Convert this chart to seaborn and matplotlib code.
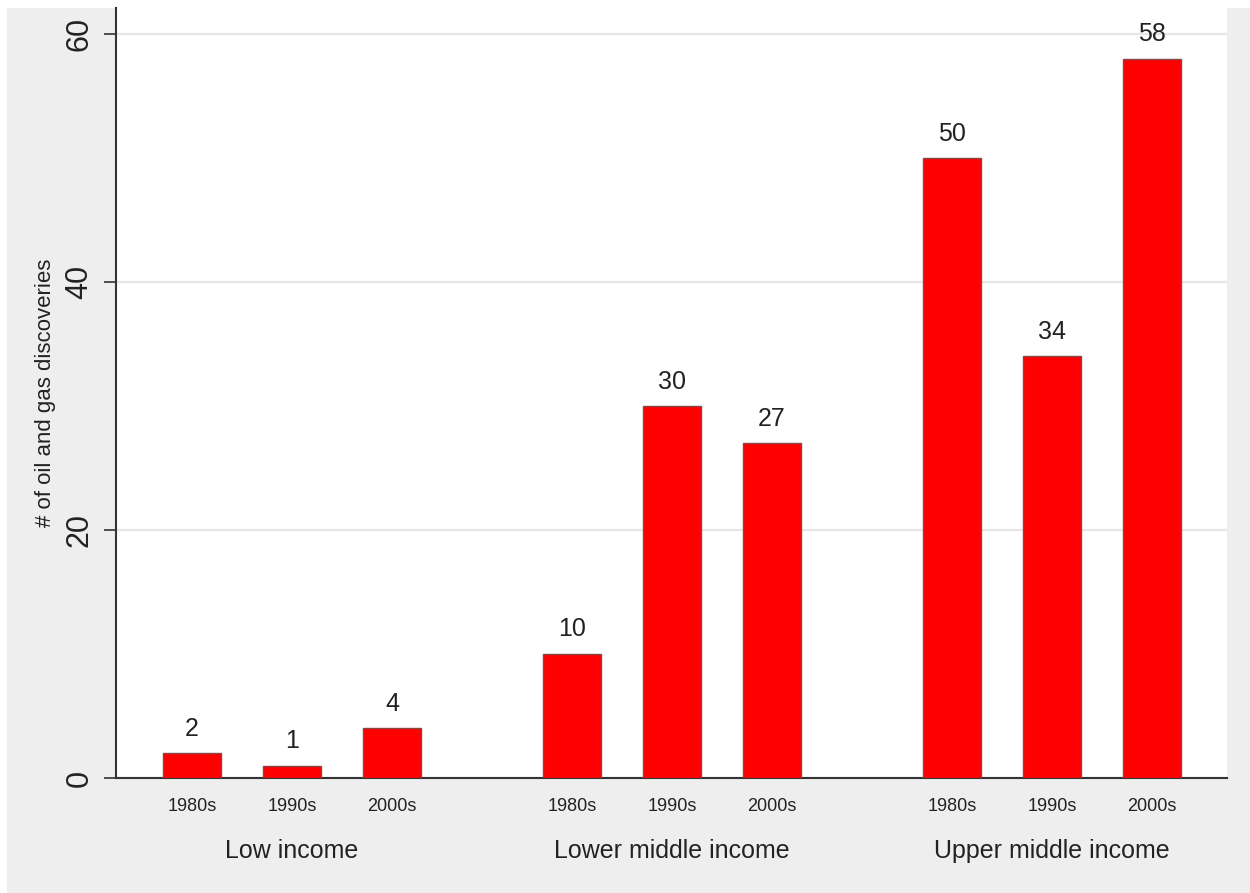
import numpy as np
import pandas as pd
import seaborn as sns
import matplotlib.pyplot as plt
import matplotlib.transforms as mtransforms
from matplotlib.patches import Rectangle

# data
groups = ['Low income', 'Lower middle income', 'Upper middle income']
decades = ['1980s', '1990s', '2000s']
low_income = [2, 1, 4]
lower_middle = [10, 30, 27]
upper_middle = [50, 34, 58]
y_ticks = [0, 20, 40, 60]

df = pd.DataFrame({
    'group': np.repeat(groups, len(decades)),
    'decade': decades * len(groups),
    'count': low_income + lower_middle + upper_middle,
})

sns.set_theme(style='white')
plt.rcParams['font.family'] = ['Liberation Sans', 'DejaVu Sans']
txt = '#222222'

fig = plt.figure(figsize=(12.5, 8.93), dpi=100)
fig.patch.set_facecolor('white')
# stata-like light grey outer region
fig.add_artist(Rectangle((7 / 1250, 0), 1, 1 - 8 / 893, transform=fig.transFigure,
                         facecolor='#eeeeee', edgecolor='none', zorder=0))
ax = fig.add_axes([0.0928, 0.1288, 0.8888, 0.8622])
ax.set_facecolor('white')

sns.barplot(data=df, x='group', y='count', hue='decade',
            palette=['#ff0000'] * 3, saturation=1,
            width=0.79, gap=0.42, edgecolor='#8a4444', linewidth=1,
            legend=False, ax=ax, zorder=3)

# values above bars
for cont in ax.containers:
    ax.bar_label(cont, padding=9, fontsize=18, color=txt)

# decade labels under each bar
trans = mtransforms.blended_transform_factory(ax.transData, ax.transAxes)
for cont, dec in zip(ax.containers, decades):
    for p in cont.patches:
        ax.text(p.get_x() + p.get_width() / 2, -0.026, dec, transform=trans,
                ha='center', va='top', fontsize=13, color=txt)

ax.set_xlim(-0.463, 2.461)
ax.set_ylim(0, 62.1)
ax.set_yticks(y_ticks)
ax.set_yticklabels([str(v) for v in y_ticks], rotation=90, va='center',
                   fontsize=22, color=txt)
ax.tick_params(axis='y', length=8.6, width=1.2, color='#333333', pad=7, left=True)
ax.tick_params(axis='x', length=0, pad=44, labelsize=18, labelcolor=txt)

ax.yaxis.grid(True, color='#e6e6e6', linewidth=1.6)
ax.set_axisbelow(True)

for s in ['top', 'right']:
    ax.spines[s].set_visible(False)
for s in ['left', 'bottom']:
    ax.spines[s].set_color('#333333')
    ax.spines[s].set_linewidth(1.5)

ax.set_xlabel('')
ax.set_ylabel('# of oil and gas discoveries', fontsize=16, color=txt, labelpad=6)

fig.savefig('out.png', dpi=100, facecolor=fig.get_facecolor())
